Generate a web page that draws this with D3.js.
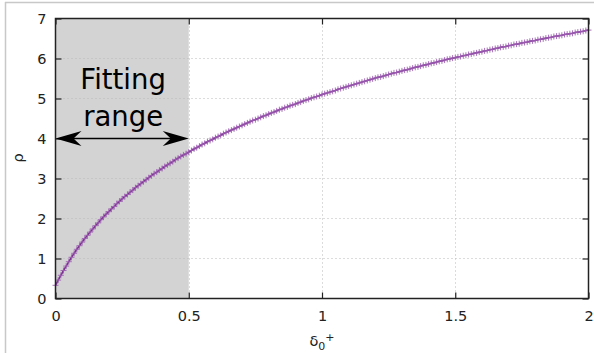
<!DOCTYPE html>
<html>
<head>
<meta charset="utf-8">
<script src="https://cdn.jsdelivr.net/npm/d3@7"></script>
<style>
  html, body { margin: 0; padding: 0; background: #fff; }
  svg { display: block; font-family: "DejaVu Sans", sans-serif; }
</style>
</head>
<body>
<svg id="chart" width="594" height="353"></svg>
<script>
// ---- data ----
const deltaStart = 0;
const deltaStep = 0.01;
const rhoValues = [
  0.33,0.46,0.58,0.70,0.81,0.92,1.03,1.13,1.23,1.32,
  1.41,1.50,1.58,1.66,1.74,1.82,1.89,1.97,2.04,2.11,
  2.17,2.24,2.30,2.37,2.43,2.49,2.55,2.60,2.66,2.71,
  2.77,2.82,2.87,2.92,2.97,3.02,3.07,3.12,3.16,3.21,
  3.25,3.30,3.34,3.38,3.42,3.47,3.51,3.55,3.59,3.62,
  3.66,3.70,3.74,3.77,3.81,3.85,3.88,3.92,3.95,3.98,
  4.02,4.05,4.08,4.12,4.15,4.18,4.21,4.24,4.27,4.30,
  4.33,4.36,4.39,4.42,4.45,4.47,4.50,4.53,4.56,4.58,
  4.61,4.64,4.66,4.69,4.72,4.74,4.77,4.79,4.82,4.84,
  4.86,4.89,4.91,4.94,4.96,4.98,5.01,5.03,5.05,5.07,
  5.10,5.12,5.14,5.16,5.18,5.20,5.23,5.25,5.27,5.29,
  5.31,5.33,5.35,5.37,5.39,5.41,5.43,5.45,5.47,5.49,
  5.51,5.53,5.54,5.56,5.58,5.60,5.62,5.64,5.65,5.67,
  5.69,5.71,5.72,5.74,5.76,5.78,5.79,5.81,5.83,5.84,
  5.86,5.88,5.89,5.91,5.93,5.94,5.96,5.98,5.99,6.01,
  6.02,6.04,6.05,6.07,6.08,6.10,6.11,6.13,6.14,6.16,
  6.17,6.19,6.20,6.22,6.23,6.25,6.26,6.28,6.29,6.30,
  6.32,6.33,6.35,6.36,6.37,6.39,6.40,6.41,6.43,6.44,
  6.45,6.47,6.48,6.49,6.51,6.52,6.53,6.55,6.56,6.57,
  6.58,6.60,6.61,6.62,6.63,6.65,6.66,6.67,6.68,6.70,
  6.71
];
const xTicks = [0, 0.5, 1, 1.5, 2];
const xTickLabels = ["0", "0.5", "1", "1.5", "2"];
const yTicks = [0, 1, 2, 3, 4, 5, 6, 7];
const yTickLabels = ["0", "1", "2", "3", "4", "5", "6", "7"];
const fitRange = [0, 0.5];
const fitArrowY = 4;
const fitLabel = ["Fitting", "range"];

const points = rhoValues.map((r, i) => ({ x: deltaStart + i * deltaStep, y: r }));

// ---- layout ----
const svg = d3.select("#chart");
const W = 594, H = 353;
const pL = 55.5, pR = 588.5, pT = 18.5, pB = 298.5;

const x = d3.scaleLinear().domain([0, 2]).range([pL, pR]);
const y = d3.scaleLinear().domain([0, 7]).range([pB, pT]);

// outer frame (top & left light grey lines)
svg.append("line").attr("x1", 5).attr("x2", W).attr("y1", 2.5).attr("y2", 2.5)
  .attr("stroke", "#c8c8c8").attr("stroke-width", 1.5);
svg.append("line").attr("x1", 5.5).attr("x2", 5.5).attr("y1", 2).attr("y2", H)
  .attr("stroke", "#c8c8c8").attr("stroke-width", 1.5);

// shaded fitting range
svg.append("rect")
  .attr("x", x(fitRange[0])).attr("y", pT)
  .attr("width", x(fitRange[1]) - x(fitRange[0]))
  .attr("height", pB - pT)
  .attr("fill", "#d3d3d3");

// grid
const grid = svg.append("g").attr("stroke", "#b8b8b8").attr("stroke-width", 1)
  .attr("stroke-dasharray", "1,3");
xTicks.filter(t => t > 0 && t < 2).forEach(t => {
  grid.append("line").attr("x1", Math.round(x(t)) + 0.5).attr("x2", Math.round(x(t)) + 0.5)
    .attr("y1", pT).attr("y2", pB);
});
yTicks.filter(t => t > 0 && t < 7).forEach(t => {
  grid.append("line").attr("x1", pL).attr("x2", pR)
    .attr("y1", y(t)).attr("y2", y(t));
});

// axes with inward ticks on all sides
const tickLen = 6;
const axisColor = "#222";
const fmtX = d => xTickLabels[xTicks.indexOf(d)];
const fmtY = d => yTickLabels[yTicks.indexOf(d)];

const gB = svg.append("g").attr("transform", `translate(0,${pB})`)
  .call(d3.axisBottom(x).tickValues(xTicks).tickFormat(fmtX).tickSizeInner(-tickLen).tickSizeOuter(0).tickPadding(12));
const gT = svg.append("g").attr("transform", `translate(0,${pT})`)
  .call(d3.axisTop(x).tickValues(xTicks).tickFormat("").tickSizeInner(-tickLen).tickSizeOuter(0));
const gL = svg.append("g").attr("transform", `translate(${pL},0)`)
  .call(d3.axisLeft(y).tickValues(yTicks).tickFormat(fmtY).tickSizeInner(-tickLen).tickSizeOuter(0).tickPadding(9));
const gR = svg.append("g").attr("transform", `translate(${pR},0)`)
  .call(d3.axisRight(y).tickValues(yTicks).tickFormat("").tickSizeInner(-tickLen).tickSizeOuter(0));

[gB, gT, gL, gR].forEach(g => {
  g.selectAll("path.domain").remove();
  g.selectAll("line").attr("stroke", axisColor).attr("stroke-width", 1.2);
  g.selectAll("text").attr("fill", "#222").style("font-size", "14.5px")
    .style("font-family", "DejaVu Sans, sans-serif");
});

// curve
const lineGen = d3.line().x(d => x(d.x)).y(d => y(d.y));
svg.append("path").datum(points)
  .attr("d", lineGen)
  .attr("fill", "none")
  .attr("stroke", "#7a2e8f")
  .attr("stroke-width", 1.6);

// "+" markers
const ms = 3;
svg.append("g").selectAll("path").data(points).join("path")
  .attr("d", d => {
    const px = x(d.x), py = y(d.y);
    return `M${px - ms},${py}H${px + ms}M${px},${py - ms}V${py + ms}`;
  })
  .attr("stroke", "#9b5cb0")
  .attr("stroke-opacity", 0.85)
  .attr("stroke-width", 1)
  .attr("fill", "none");

// plot box
svg.append("rect")
  .attr("x", pL).attr("y", pT)
  .attr("width", pR - pL).attr("height", pB - pT)
  .attr("fill", "none").attr("stroke", axisColor).attr("stroke-width", 1.5);

// double-headed arrow
const ax1 = x(fitRange[0]), ax2 = x(fitRange[1]), ay = y(fitArrowY);
const headL = 26, headW = 7.5, notch = 18;
svg.append("line").attr("x1", ax1 + 5).attr("x2", ax2 - 5).attr("y1", ay).attr("y2", ay)
  .attr("stroke", "#000").attr("stroke-width", 1.5);
svg.append("path")
  .attr("d", `M${ax1},${ay}L${ax1 + headL},${ay - headW}L${ax1 + notch},${ay}L${ax1 + headL},${ay + headW}Z`)
  .attr("fill", "#000");
svg.append("path")
  .attr("d", `M${ax2},${ay}L${ax2 - headL},${ay - headW}L${ax2 - notch},${ay}L${ax2 - headL},${ay + headW}Z`)
  .attr("fill", "#000");

// label
const labelX = (ax1 + ax2) / 2 + 1;
svg.append("text").attr("x", labelX).attr("y", 88.5)
  .attr("text-anchor", "middle").style("font-size", "27.5px").attr("fill", "#000")
  .text(fitLabel[0]);
svg.append("text").attr("x", labelX).attr("y", 125.5)
  .attr("text-anchor", "middle").style("font-size", "27.5px").attr("fill", "#000")
  .text(fitLabel[1]);

// axis titles
svg.append("text")
  .attr("transform", `translate(23,158) rotate(-90)`)
  .attr("text-anchor", "middle").style("font-size", "14.5px").attr("fill", "#222")
  .text("ρ");

const xt = svg.append("text").attr("x", (pL + pR) / 2).attr("y", 346)
  .attr("text-anchor", "middle").style("font-size", "14.5px").attr("fill", "#222");
xt.append("tspan").text("δ");
xt.append("tspan").attr("dy", 4).style("font-size", "11px").text("0");
xt.append("tspan").attr("dy", -9).style("font-size", "11px").text("+");
</script>
</body>
</html>
